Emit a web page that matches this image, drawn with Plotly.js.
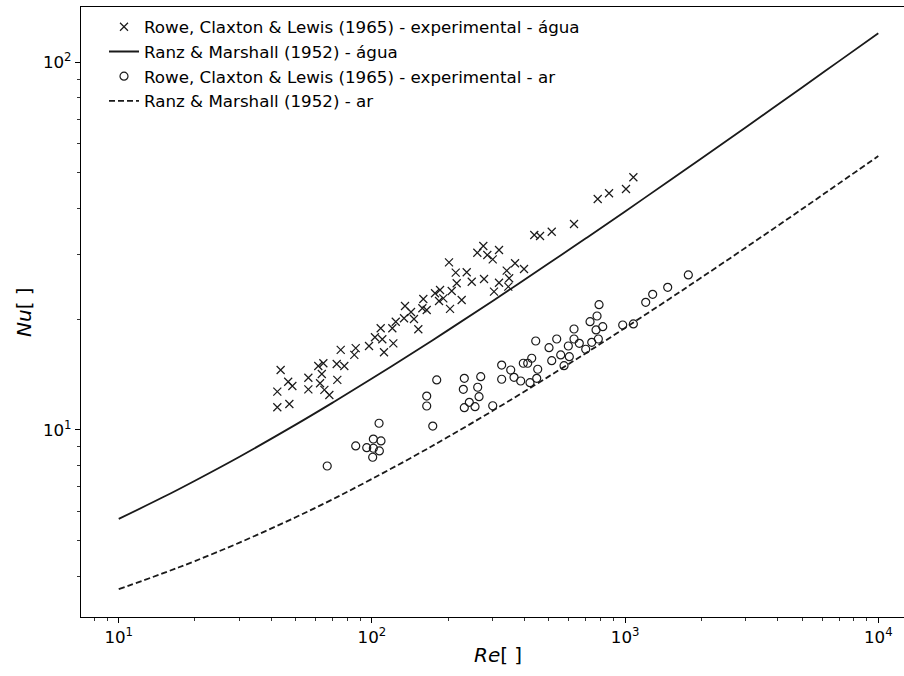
<!DOCTYPE html>
<html>
<head>
<meta charset="utf-8">
<script src="https://cdn.plot.ly/plotly-3.0.1.min.js"></script>
<style>
html,body{margin:0;padding:0;background:#fff;}
#chart{width:904px;height:676px;}
</style>
</head>
<body>
<div id="chart"></div>
<script>
// Rowe, Claxton & Lewis (1965) - experimental - água
const reWater = [43.6,46.7,48.5,42.3,42.3,47.2,56.1,56.1,61.4,64.3,63.4,62.4,64.9,67.9,73.0,72.6,77.8,75.3,86.3,85.2,97.4,102.8,108.3,109.9,111.6,121.5,120.4,124.2,135.1,142.7,133.9,146.6,152.5,159.6,158.2,164.6,177.5,185.8,184.1,191.4,201.6,214.3,236.8,247.9,277.2,216.2,206.6,226.2,203.5,275.4,260.8,285.6,317.7,300.0,340.7,367.5,398.8,317.7,303.5,348.3,345.7,437.8,461.3,513.1,628.3,779.5,864.0,1008,1078];
const nuWater = [14.56,13.53,13.17,12.71,11.53,11.77,13.87,12.90,14.93,15.19,14.20,13.40,12.85,12.45,13.68,15.12,14.93,16.51,16.69,16.00,16.92,17.87,18.91,17.65,16.27,17.21,18.91,19.70,21.74,20.94,20.13,20.04,18.79,22.71,21.43,21.20,23.54,24.03,22.43,22.81,28.58,26.78,26.85,25.31,25.74,25.06,23.88,22.57,21.34,31.65,30.35,29.92,30.87,29.12,27.12,28.41,27.41,25.15,23.78,25.86,24.53,33.90,33.69,34.61,36.32,42.48,44.03,45.23,48.67];

// Rowe, Claxton & Lewis (1965) - experimental - ar
const reAir = [66.6,86.3,95.4,101.3,108.6,106.7,101.3,107.0,100.7,180.3,164.6,164.6,173.9,231.7,269.0,229.6,261.7,264.9,242.5,231.7,255.4,300.0,325.4,325.4,353.4,364.1,386.9,396.2,412.4,427.7,451.7,447.6,421.1,443.6,500.6,536.9,513.1,556.8,596.7,602.1,573.8,628.3,628.3,659.3,698.9,738.2,726.9,767.7,784.0,774.7,788.9,815.9,978.4,1078,1206,1285,1473,1777];
const nuAir = [7.98,9.05,8.95,9.45,9.34,10.43,8.92,8.77,8.43,13.68,12.37,11.62,10.25,13.82,13.96,12.90,13.07,12.32,11.89,11.50,11.57,11.64,15.02,13.74,14.56,13.91,13.59,15.19,15.19,15.67,14.63,13.82,13.45,17.46,16.74,17.68,15.44,16.00,16.92,15.83,14.96,18.82,17.68,17.21,16.58,17.32,19.70,18.71,17.68,20.42,21.92,19.10,19.30,19.43,22.25,23.39,24.44,26.40];

// Ranz & Marshall (1952) curves
const reCurve = [10,15,20,30,50,70,100,150,200,300,500,700,1000,1500,2000,3000,5000,7000,10000];
const nuCurveWater = [5.73,6.57,7.28,8.46,10.34,11.87,13.80,16.45,18.69,22.44,28.39,33.22,39.31,47.70,54.77,66.63,85.44,100.73,120.0];
const nuCurveAir = [3.69,4.08,4.40,4.94,5.79,6.48,7.36,8.56,9.58,11.28,13.99,16.18,18.95,22.76,25.97,31.36,39.90,46.85,55.6];

const legendNames = [
  "Rowe, Claxton & Lewis (1965) - experimental - água",
  "Ranz & Marshall (1952) - água",
  "Rowe, Claxton & Lewis (1965) - experimental - ar",
  "Ranz & Marshall (1952) - ar"
];

const xTickVals = [10,100,1000,10000];
const xTickText = ["10<sup>1</sup>","10<sup>2</sup>","10<sup>3</sup>","10<sup>4</sup>"];
const yTickVals = [10,100];
const yTickText = ["10<sup>1</sup>","10<sup>2</sup>"];
const xMinor = [8,9,20,30,40,50,60,70,80,90,200,300,400,500,600,700,800,900,2000,3000,4000,5000,6000,7000,8000,9000];
const yMinor = [4,5,6,7,8,9,20,30,40,50,60,70,80,90];

const ink = "#1a1a1a";
const traces = [
  {x: reWater, y: nuWater, type: "scatter", mode: "markers", name: legendNames[0],
   marker: {symbol: "x-thin-open", size: 8, color: ink, line: {color: ink, width: 1.2}}},
  {x: reCurve, y: nuCurveWater, type: "scatter", mode: "lines", name: legendNames[1],
   line: {color: ink, width: 1.8, shape: "spline"}},
  {x: reAir, y: nuAir, type: "scatter", mode: "markers", name: legendNames[2],
   marker: {symbol: "circle-open", size: 8, color: ink, line: {color: ink, width: 1.2}}},
  {x: reCurve, y: nuCurveAir, type: "scatter", mode: "lines", name: legendNames[3],
   line: {color: ink, width: 1.8, dash: "6px,3px", shape: "spline"}}
];

const font = "DejaVu Sans, sans-serif";
const layout = {
  width: 904, height: 676,
  margin: {l: 81, r: 0, t: 7, b: 59},
  paper_bgcolor: "#fff", plot_bgcolor: "#fff",
  font: {family: font, size: 16.7, color: "#000"},
  showlegend: true,
  legend: {x: (104 - 81) / 823, y: 0.996, xanchor: "left", yanchor: "top", bgcolor: "rgba(0,0,0,0)",
           font: {family: font, size: 16.7, color: "#000"}},
  xaxis: {type: "log", range: [0.851, 4.1015], showgrid: false, zeroline: false,
          showline: true, linecolor: "#000", linewidth: 1.1, mirror: true,
          ticks: "outside", ticklen: 5, tickwidth: 1, tickcolor: "#000",
          tickmode: "array", tickvals: xTickVals, ticktext: xTickText,
          tickfont: {family: font, size: 16.7, color: "#000"},
          minor: {tickmode: "array", tickvals: xMinor, ticks: "outside", ticklen: 3, tickwidth: 0.8, tickcolor: "#000", showgrid: false}},
  yaxis: {type: "log", range: [0.4914, 2.1504], showgrid: false, zeroline: false,
          showline: true, linecolor: "#000", linewidth: 1.1, mirror: false,
          ticks: "outside", ticklen: 5, tickwidth: 1, tickcolor: "#000",
          tickmode: "array", tickvals: yTickVals, ticktext: yTickText,
          tickfont: {family: font, size: 16.7, color: "#000"},
          minor: {tickmode: "array", tickvals: yMinor, ticks: "outside", ticklen: 3, tickwidth: 0.8, tickcolor: "#000", showgrid: false}},
  annotations: [
    {text: "<i>Re</i>[ ]", xref: "paper", yref: "paper", x: (498 - 81) / 823, y: -(655 - 617) / 610,
     xanchor: "center", yanchor: "middle", showarrow: false, font: {family: font, size: 20, color: "#000"}},
    {text: "<i>Nu</i>[ ]", xref: "paper", yref: "paper", x: -(81 - 24) / 823, y: 0.5,
     xanchor: "center", yanchor: "middle", textangle: -90, showarrow: false, font: {family: font, size: 20, color: "#000"}}
  ]
};

Plotly.newPlot("chart", traces, layout, {displayModeBar: false, staticPlot: true});
</script>
</body>
</html>
